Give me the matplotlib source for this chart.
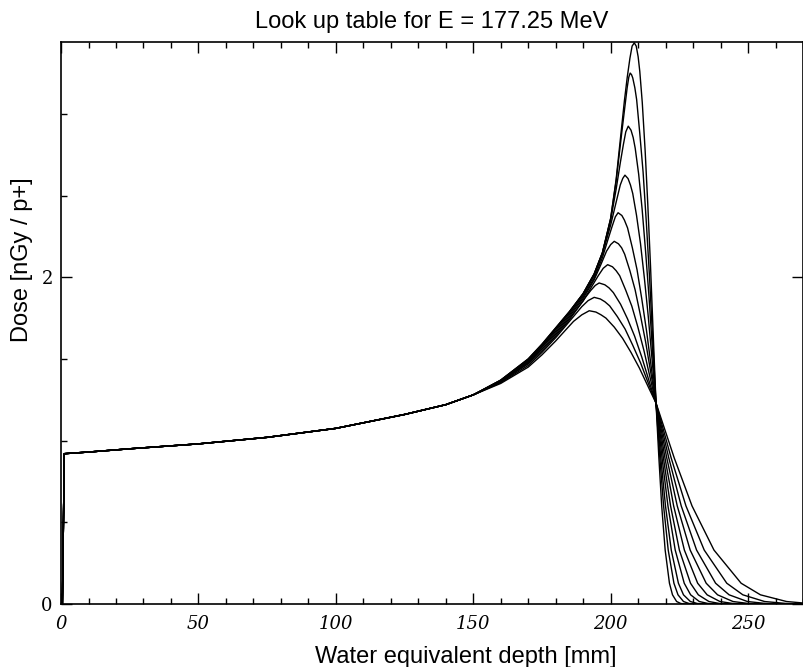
"""
Depth dose look up table (Bragg curves) for a 177.25 MeV proton beam
"""

import matplotlib
matplotlib.use('Agg')
import matplotlib.pyplot as plt
from matplotlib.ticker import MultipleLocator

# entrance region, identical for all curves
depth_entry = [0.5, 1.2, 10, 25, 50, 75, 100, 125, 140]
dose_entry = [0.0, 0.92, 0.93, 0.95, 0.98, 1.02, 1.075, 1.16, 1.22]

# common distal tail levels (dose) reached by every curve below the crossing point
tail_dose = [0.893, 0.60, 0.33, 0.127, 0.056, 0.015, 0.003, 0.0, 0.0]

# peak region, one list per curve (sharpest first)
depth_peak = [
    [150, 160, 170, 175, 180, 185, 190, 194, 197, 200, 202, 204, 205, 206, 207, 207.8, 208.6,
     209.3, 210, 210.6, 211.5, 212.55, 213.5, 214.5, 215.7, 216.5],
    [150, 160, 170, 175, 180, 185, 190, 194, 197, 200, 202, 204, 205, 206, 206.6, 207.1,
     207.6, 208.04, 208.8, 209.45, 210.6, 211.8, 213, 214.15, 215.56, 216.5],
    [150, 160, 170, 175, 180, 185, 190, 194, 197, 200, 202, 203.5, 204.6, 205.5, 206.4,
     207.41, 208.2, 208.93, 210.2, 211.45, 212.7, 213.98, 215.49, 216.5],
    [150, 160, 170, 175, 180, 185, 190, 194, 197, 200, 202, 203.5, 204.4, 205.2,
     206.33, 207.2, 208.03, 209.4, 210.85, 212.3, 213.68, 215.37, 216.5],
    [150, 160, 170, 175, 180, 185, 190, 194, 197, 199, 200.5, 201.7, 202.7,
     204.08, 205, 206.15, 207.9, 209.6, 211.3, 213.05, 215.12, 216.5],
    [150, 160, 170, 175, 180, 185, 190, 194, 196.5, 198.5, 200, 201.3,
     202.82, 204, 205.1, 207, 208.9, 210.8, 212.7, 214.98, 216.5],
    [150, 160, 170, 175, 180, 185, 190, 193, 195.5, 197.3, 198.9,
     200.66, 202, 203.3, 205.5, 207.7, 209.9, 212.1, 214.74, 216.5],
    [150, 160, 170, 175, 180, 185, 188, 190.5, 192.8, 194.4, 195.8,
     197.87, 199.4, 200.98, 203.6, 206.15, 208.7, 211.33, 214.43, 216.5],
    [150, 160, 170, 175, 180, 184, 187, 189.5, 191.8, 194.0,
     196.25, 197.9, 199.63, 202.4, 205.25, 208, 210.88, 214.25, 216.5],
    [150, 160, 170, 175, 180, 183.5, 186.5, 189.5, 192.2,
     194.63, 196.5, 198.28, 201.3, 204.35, 207.4, 210.43, 214.07, 216.5],
]
dose_peak = [
    [1.28, 1.37, 1.50, 1.59, 1.69, 1.79, 1.90, 2.02, 2.15, 2.36, 2.60, 2.92, 3.08, 3.22, 3.34, 3.415, 3.435,
     3.415, 3.35, 3.26, 3.07, 2.774, 2.45, 2.07, 1.56, 1.23],
    [1.28, 1.37, 1.50, 1.59, 1.69, 1.79, 1.90, 2.02, 2.15, 2.36, 2.59, 2.88, 3.02, 3.16, 3.225, 3.25,
     3.24, 3.22, 3.16, 3.088, 2.88, 2.644, 2.33, 1.998, 1.533, 1.23],
    [1.28, 1.37, 1.495, 1.585, 1.685, 1.785, 1.90, 2.02, 2.15, 2.35, 2.54, 2.70, 2.81, 2.89, 2.925,
     2.90, 2.855, 2.79, 2.63, 2.417, 2.16, 1.874, 1.484, 1.23],
    [1.28, 1.365, 1.49, 1.58, 1.68, 1.78, 1.89, 2.01, 2.14, 2.32, 2.46, 2.565, 2.605, 2.625,
     2.604, 2.565, 2.513, 2.38, 2.207, 1.99, 1.76, 1.439, 1.23],
    [1.28, 1.365, 1.485, 1.575, 1.67, 1.77, 1.88, 1.995, 2.12, 2.23, 2.31, 2.37, 2.395,
     2.378, 2.35, 2.302, 2.18, 2.046, 1.87, 1.672, 1.405, 1.23],
    [1.28, 1.36, 1.48, 1.57, 1.66, 1.76, 1.87, 1.985, 2.08, 2.16, 2.20, 2.22,
     2.205, 2.18, 2.141, 2.04, 1.923, 1.77, 1.606, 1.379, 1.23],
    [1.28, 1.36, 1.475, 1.56, 1.65, 1.75, 1.855, 1.94, 2.01, 2.055, 2.077,
     2.064, 2.04, 2.009, 1.92, 1.823, 1.695, 1.552, 1.357, 1.23],
    [1.28, 1.36, 1.47, 1.55, 1.64, 1.74, 1.81, 1.87, 1.92, 1.95, 1.965,
     1.954, 1.935, 1.906, 1.835, 1.745, 1.64, 1.511, 1.34, 1.23],
    [1.28, 1.355, 1.46, 1.54, 1.63, 1.71, 1.77, 1.82, 1.857, 1.877,
     1.867, 1.85, 1.825, 1.76, 1.683, 1.585, 1.476, 1.327, 1.23],
    [1.28, 1.35, 1.45, 1.525, 1.61, 1.675, 1.73, 1.77, 1.795,
     1.787, 1.77, 1.75, 1.695, 1.626, 1.54, 1.445, 1.315, 1.23],
]

# depths at which each curve reaches the tail_dose levels
depth_tail = [
    [217.55, 218.57, 219.83, 221.39, 222.5, 224.0, 225.5, 227, 270],
    [217.9, 219.26, 220.94, 223.02, 224.5, 226.5, 228.5, 230, 270],
    [218.25, 219.95, 222.05, 224.65, 226.5, 229.0, 231.5, 234, 270],
    [218.7, 220.85, 223.49, 226.77, 229.1, 232.25, 235.4, 238, 270],
    [219.2, 221.8, 225.0, 229.05, 231.9, 235.75, 239.6, 243, 270],
    [219.76, 222.92, 226.82, 231.66, 235.1, 239.75, 244.4, 249, 270],
    [220.42, 224.23, 228.93, 234.76, 238.9, 244.5, 250.1, 256, 270],
    [221.16, 225.68, 231.26, 238.18, 243.1, 249.75, 256.4, 263, 270],
    [222.03, 227.4, 234.04, 242.25, 248.1, 256.0, 263.9, 270, 270],
    [223.15, 229.61, 237.59, 247.47, 254.5, 264.0, 270, 270, 270],
]
tail_end_c9 = [0.893, 0.60, 0.33, 0.127, 0.056, 0.015, 0.006, 0.006, 0.006]

title = 'Look up table for E = 177.25 MeV'
xlabel = 'Water equivalent depth [mm]'
ylabel = 'Dose [nGy / p+]'

sans = ['Liberation Sans', 'DejaVu Sans']


def main():
    fig = plt.figure(figsize=(8.04, 6.67), dpi=100)
    ax = fig.add_axes([0.0759, 0.0945, 0.9229, 0.8425])

    n = len(depth_peak)
    for i in range(n):
        tail = tail_end_c9 if i == n - 1 else tail_dose
        xs = depth_entry + depth_peak[i] + depth_tail[i]
        ys = dose_entry + dose_peak[i] + tail
        ax.plot(xs, ys, color='black', lw=1.0)

    ax.set_xlim(0, 270)
    ax.set_ylim(0, 3.44)

    ax.xaxis.set_major_locator(MultipleLocator(50))
    ax.xaxis.set_minor_locator(MultipleLocator(10))
    ax.yaxis.set_major_locator(MultipleLocator(2))
    ax.yaxis.set_minor_locator(MultipleLocator(0.5))
    ax.tick_params(which='both', direction='in', top=True, right=True, width=1.0)
    ax.tick_params(axis='y', which='minor', right=False)
    ax.tick_params(which='major', length=8)
    ax.tick_params(which='minor', length=4)
    ax.tick_params(axis='x', pad=8)
    ax.tick_params(axis='y', pad=6)

    for lab in ax.get_xticklabels():
        lab.set_family('DejaVu Serif')
        lab.set_style('italic')
        lab.set_fontsize(13)
    for lab in ax.get_yticklabels():
        lab.set_family('DejaVu Serif')
        lab.set_fontsize(13)

    for s in ax.spines.values():
        s.set_linewidth(1.2)

    ax.set_title(title, family=sans, fontsize=17, pad=10)
    ax.set_xlabel(xlabel, family=sans, fontsize=17)
    ax.set_ylabel(ylabel, family=sans, fontsize=17)
    ax.xaxis.set_label_coords(0.545, -0.075)
    ax.yaxis.set_label_coords(-0.038, 0.612)

    fig.savefig('out.png', dpi=100)


main()
